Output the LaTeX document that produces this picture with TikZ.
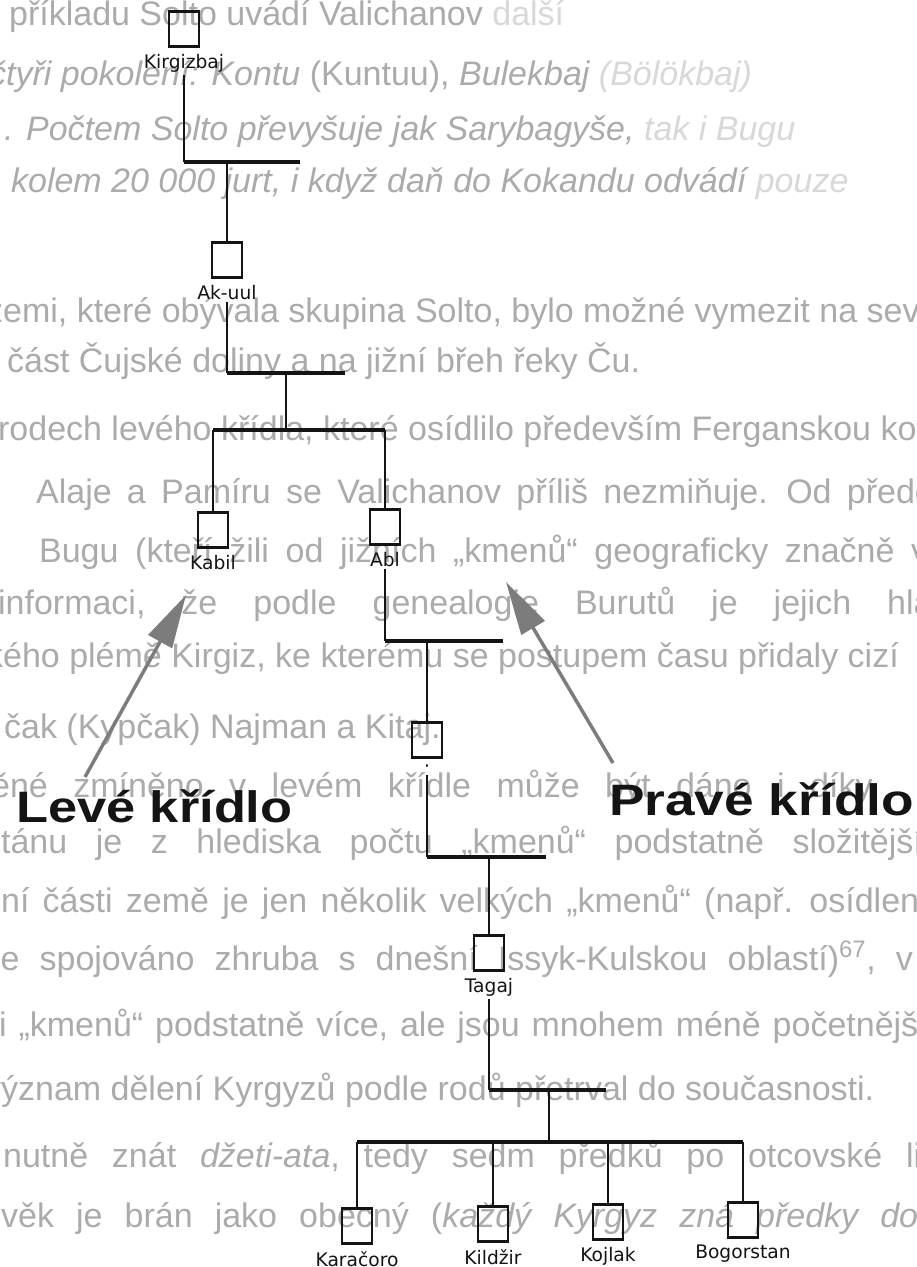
\documentclass[tikz,border=0pt]{standalone}
\usepackage{fontspec}
\setmainfont{Liberation Sans}
\newfontfamily\lblfont{DejaVu Sans}
\usetikzlibrary{arrows.meta}
\definecolor{cink}{HTML}{141414}
\definecolor{cpage}{HTML}{ABABAB}
\definecolor{cfaint}{HTML}{D8D8D8}
\definecolor{cwing}{HTML}{7C7C7C}
\newcommand{\ws}[1]{\spaceskip=#1em\relax}
\tikzset{
  every picture/.style={line width=1.7pt},
  member/.style={draw=cink, line width=1.1pt, minimum width=22.5pt, minimum height=25pt, inner sep=0pt, label distance=0pt},
  boxedge/.style={draw=cink, line width=2.2pt},
  lbl/.style={font=\lblfont\fontsize{14pt}{16pt}\selectfont, text=cink, inner sep=1pt, yshift=-4pt},
  stem/.style={draw=cink, line width=1.7pt},
  bar/.style={draw=cink, line width=3pt},
  wingarrow/.style={draw=cwing, line width=2.6pt, -{Triangle[length=40pt, width=20pt]}},
  wing/.style={font=\fontsize{33pt}{36pt}\selectfont\bfseries, text=cink, inner sep=0pt, anchor=base west},
  bgtext/.style={font=\fontsize{25.5pt}{30pt}\selectfont, text=cpage, inner sep=0pt, anchor=base west},
}

\begin{document}
\begin{tikzpicture}[x=0.75pt, y=-0.75pt]
  \path[use as bounding box, fill=white] (0,0) rectangle (917,1267);
  % ---------- page text behind the tree
  \node[bgtext] at (8,25) {příkladu Solto uvádí Valichanov \textcolor{cfaint}{další}};
  \node[bgtext] at (-12,85) {\itshape čtyři pokolení: Kontu \upshape(Kuntuu), \itshape Bulekbaj \textcolor{cfaint}{(Bölökbaj)}};
  \node[bgtext] at (3,140) {\itshape . Počtem Solto převyšuje jak Sarybagyše, \textcolor{cfaint}{tak i Bugu}};
  \node[bgtext] at (10,192) {\itshape kolem 20 000 jurt, i když daň do Kokandu odvádí \textcolor{cfaint}{pouze}};
  \node[bgtext] at (-15,322) {zemi, které obývala skupina Solto, bylo možné vymezit na severu};
  \node[bgtext] at (6,372) {část Čujské doliny a na jižní břeh řeky Ču.};
  \node[bgtext] at (-3,440) {rodech levého křídla, které osídlilo především Ferganskou kotlinu};
  \node[bgtext] at (35,503) {\ws{0.45}Alaje a Pamíru se Valichanov příliš nezmiňuje. Od předchozích};
  \node[bgtext] at (38,562) {\ws{0.49}Bugu (kteří žili od jižních „kmenů“ geograficky značně vzdáleni)};
  \node[bgtext] at (-3,614) {\ws{1.06}informaci, že podle genealogie Burutů je jejich hlavním};
  \node[bgtext] at (-15,667) {kého plémě Kirgiz, ke kterému se postupem času přidaly cizí};
  \node[bgtext] at (3,738) {čak (Kypčak) Najman a Kitaj.};
  \node[bgtext] at (-10,797) {\ws{0.75}ěné zmíněno v levém křídle může být dáno i díky};
  \node[bgtext] at (-17,853) {\ws{0.84}stánu je z hlediska počtu „kmenů“ podstatně složitější. V};
  \node[bgtext] at (0,912) {\ws{0.39}ní části země je jen několik velkých „kmenů“ (např. osídlení};
  \node[bgtext] at (-8,970) {\ws{0.59}je spojováno zhruba s dnešní Issyk-Kulskou oblastí)\textsuperscript{67}, v jižní};
  \node[bgtext] at (-2,1036) {\ws{0.35}i „kmenů“ podstatně více, ale jsou mnohem méně početnější};
  \node[bgtext] at (-17,1100) {význam dělení Kyrgyzů podle rodů přetrval do současnosti.};
  \node[bgtext] at (2,1167) {\ws{0.7}nutně znát \textit{džeti-ata}, tedy sedm předků po otcovské linii};
  \node[bgtext] at (0,1227) {\ws{0.65}věk je brán jako obecný (\textit{každý Kyrgyz zná předky do} sedmého};
  % ---------- members of the line
  \node[member, label={[lbl, name=kirgizbaj-l]below:Kirgizbaj}] (kirgizbaj) at (184,29) {};
  \node[member, label={[lbl, name=akuul-l]below:Ak-uul}] (akuul) at (227,260) {};
  \node[member, label={[lbl, name=kabil-l]below:Kabil}] (kabil) at (213,530) {};
  \node[member, label={[lbl, name=abl-l]below:Abl}] (abl) at (385,527) {};
  \node[member, label={[lbl, name=nameless-l]below:·}] (nameless) at (427,740) {};
  \node[member, label={[lbl, name=tagaj-l]below:Tagaj}] (tagaj) at (489,953) {};
  \node[member, label={[lbl, name=karacoro-l]below:Karačoro}] (karacoro) at (357,1226) {};
  \node[member, label={[lbl, name=kildzir-l]below:Kildžir}] (kildzir) at (493,1224) {};
  \node[member, label={[lbl, name=kojlak-l]below:Kojlak}] (kojlak) at (608,1222) {};
  \node[member, label={[lbl, name=bogorstan-l]below:Bogorstan}] (bogorstan) at (743,1220) {};
  \foreach \n in {kirgizbaj,akuul,kabil,abl,nameless,tagaj,karacoro,kildzir,kojlak,bogorstan}
    \draw[boxedge] (\n.north west) -- (\n.north east) (\n.south west) -- (\n.south east);
  % ---------- descent lines
  \coordinate (bar1) at (300,162);
  \draw[stem] (kirgizbaj-l.south) -- (kirgizbaj-l.south |- bar1);
  \draw[bar] (kirgizbaj-l.south |- bar1) -- (bar1);
  \draw[stem] (akuul.north) -- (akuul.north |- bar1);
  \coordinate (bar2) at (345,373);
  \coordinate (fork2) at (286,430);
  \draw[stem] (akuul-l.south) -- (akuul-l.south |- bar2);
  \draw[bar] (akuul-l.south |- bar2) -- (bar2);
  \draw[stem] (fork2) -- (fork2 |- bar2);
  \draw[bar] (kabil.north |- fork2) -- (abl.north |- fork2);
  \draw[stem] (kabil.north) -- (kabil.north |- fork2);
  \draw[stem] (abl.north) -- (abl.north |- fork2);
  \coordinate (bar3) at (503,641);
  \draw[stem] (abl-l.south) -- (abl-l.south |- bar3);
  \draw[bar] (abl-l.south |- bar3) -- (bar3);
  \draw[stem] (nameless.north) -- (nameless.north |- bar3);
  \coordinate (bar4) at (546,857);
  \draw[stem] (nameless-l.south) -- (nameless-l.south |- bar4);
  \draw[bar] (nameless-l.south |- bar4) -- (bar4);
  \draw[stem] (tagaj.north) -- (tagaj.north |- bar4);
  \coordinate (bar5) at (606,1090);
  \coordinate (fork5) at (549,1142);
  \draw[stem] (tagaj-l.south) -- (tagaj-l.south |- bar5);
  \draw[bar] (tagaj-l.south |- bar5) -- (bar5);
  \draw[stem] (fork5) -- (fork5 |- bar5);
  \draw[bar] (karacoro.north |- fork5) -- (bogorstan.north |- fork5);
  \foreach \c in {karacoro,kildzir,kojlak,bogorstan}
    \draw[stem] (\c.north) -- (\c.north |- fork5);
  % ---------- wings
  \node[wing] (leftwing) at (15,822) {\scalebox{1.19}[1]{Levé křídlo}};
  \node[wing] (rightwing) at (608,815) {\scalebox{1.21}[1]{Pravé křídlo}};
  \coordinate (lefttail) at (85,777);
  \coordinate (leftaim) at (186,595);
  \coordinate (righttail) at (613,763);
  \coordinate (rightaim) at (506,582);
  \draw[wingarrow] (lefttail) -- (leftaim);
  \draw[wingarrow] (righttail) -- (rightaim);
\end{tikzpicture}
\end{document}
